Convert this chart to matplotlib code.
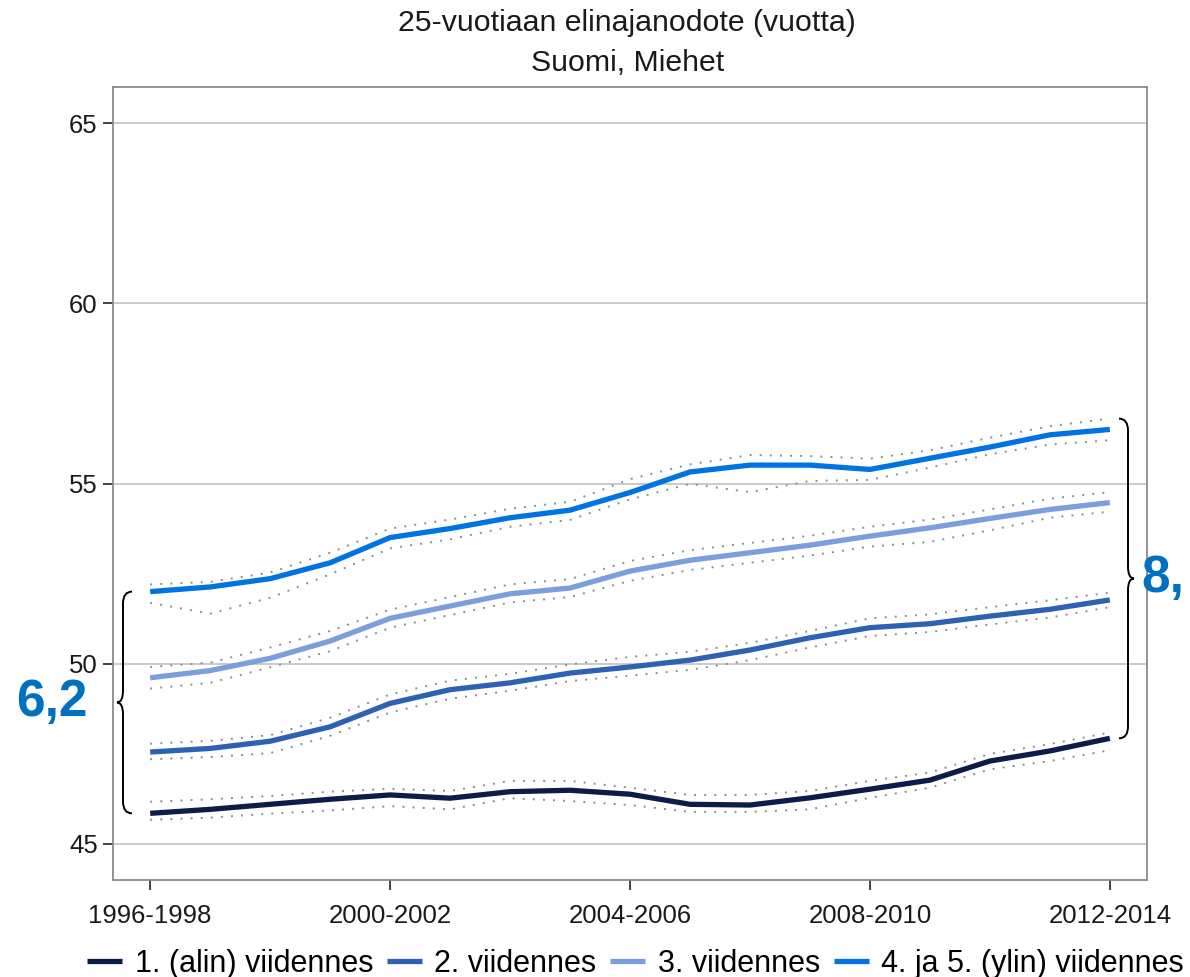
import matplotlib
matplotlib.use("Agg")
import matplotlib.pyplot as plt
from matplotlib.path import Path
from matplotlib.patches import PathPatch
from matplotlib.transforms import IdentityTransform, blended_transform_factory

plt.rcParams['font.family'] = ['Liberation Sans', 'DejaVu Sans']

# Three-year periods
periods = ["1996-1998", "1997-1999", "1998-2000", "1999-2001", "2000-2002",
           "2001-2003", "2002-2004", "2003-2005", "2004-2006", "2005-2007",
           "2006-2008", "2007-2009", "2008-2010", "2009-2011", "2010-2012",
           "2011-2013", "2012-2014"]
tick_labels = ["1996-1998", "2000-2002", "2004-2006", "2008-2010", "2012-2014"]

# Life expectancy at age 25 (years), men, by income quintile
q1 = [45.85, 45.96, 46.10, 46.24, 46.36, 46.27, 46.45, 46.49, 46.38, 46.10,
      46.08, 46.28, 46.52, 46.77, 47.30, 47.58, 47.93]
q1_hi = [46.17, 46.24, 46.33, 46.45, 46.53, 46.47, 46.75, 46.75, 46.56, 46.36,
         46.36, 46.47, 46.75, 46.98, 47.50, 47.77, 48.09]
q1_lo = [45.67, 45.73, 45.84, 45.93, 46.05, 45.96, 46.27, 46.19, 46.08, 45.89,
         45.89, 45.96, 46.28, 46.56, 47.07, 47.30, 47.60]

q2 = [47.55, 47.65, 47.85, 48.25, 48.90, 49.28, 49.47, 49.74, 49.91, 50.10,
      50.38, 50.72, 51.00, 51.11, 51.32, 51.51, 51.77]
q2_hi = [47.78, 47.86, 48.02, 48.50, 49.15, 49.53, 49.72, 49.98, 50.19, 50.33,
         50.58, 50.91, 51.26, 51.37, 51.57, 51.76, 51.97]
q2_lo = [47.35, 47.41, 47.52, 48.00, 48.65, 49.03, 49.25, 49.52, 49.67, 49.83,
         50.10, 50.45, 50.77, 50.88, 51.09, 51.28, 51.57]

q3 = [49.61, 49.81, 50.15, 50.63, 51.26, 51.60, 51.94, 52.10, 52.57, 52.87,
      53.08, 53.29, 53.54, 53.77, 54.03, 54.28, 54.47]
q3_hi = [49.91, 50.03, 50.45, 50.91, 51.50, 51.85, 52.20, 52.35, 52.85, 53.15,
         53.35, 53.55, 53.80, 54.00, 54.28, 54.58, 54.76]
q3_lo = [49.31, 49.47, 49.90, 50.35, 51.00, 51.35, 51.70, 51.85, 52.30, 52.60,
         52.80, 53.00, 53.25, 53.38, 53.70, 54.05, 54.22]

q45 = [52.00, 52.13, 52.36, 52.80, 53.50, 53.75, 54.05, 54.26, 54.75, 55.32,
       55.51, 55.51, 55.39, 55.70, 56.01, 56.35, 56.50]
q45_hi = [52.20, 52.27, 52.53, 53.08, 53.75, 54.00, 54.30, 54.49, 55.12, 55.53,
          55.79, 55.76, 55.69, 55.92, 56.27, 56.59, 56.80]
q45_lo = [51.69, 51.39, 51.83, 52.48, 53.20, 53.45, 53.80, 53.99, 54.56, 54.99,
          54.76, 55.07, 55.10, 55.44, 55.81, 56.08, 56.20]

series_names = ["1. (alin) viidennes", "2. viidennes", "3. viidennes",
                "4. ja 5. (ylin) viidennes"]
series_colors = ["#0d1b48", "#2c61b3", "#7b9edc", "#0073e2"]

title_line1 = "25-vuotiaan elinajanodote (vuotta)"
title_line2 = "Suomi, Miehet"
gap_start_label = "6,2"
gap_end_label = "8,"

W, H = 1190, 977
fig = plt.figure(figsize=(W / 100, H / 100), dpi=100)
ax = fig.add_axes([113 / W, 1 - 880 / H, (1147 - 113) / W, (880 - 87) / H])

x = list(range(len(periods)))
means = [q1, q2, q3, q45]
his = [q1_hi, q2_hi, q3_hi, q45_hi]
los = [q1_lo, q2_lo, q3_lo, q45_lo]

# confidence bounds as dotted grey lines
for hi, lo in zip(his, los):
    for b in (hi, lo):
        ax.plot(x, b, color="#8c8c8c", lw=1.4, linestyle=(0, (1, 4.2)),
                zorder=2)

handles = []
for m, c, n in zip(means, series_colors, series_names):
    h, = ax.plot(x, m, color=c, lw=3.8, solid_joinstyle="round",
                 solid_capstyle="butt", label=n, zorder=3)
    handles.append(h)

ax.set_xlim(-0.62, 16.62)
ax.set_ylim(44, 66)
ax.set_yticks([45, 50, 55, 60, 65])
ax.set_xticks([periods.index(t) for t in tick_labels])
ax.set_xticklabels(tick_labels)
ax.grid(axis="y", color="#c6c6c6", lw=1.3, zorder=1)
ax.set_axisbelow(True)
for sp in ax.spines.values():
    sp.set_color("#8a8a8a")
    sp.set_linewidth(1.3)
ax.tick_params(axis="both", direction="out", length=7, width=1.3,
               color="#333333", labelsize=18.5, labelcolor="#1a1a1a")
ax.tick_params(axis="x", pad=10)
ax.tick_params(axis="y", pad=4)

fig.text(0.527, 1 - 23 / H, title_line1, ha="center", va="center",
         fontsize=21.8, color="#1a1a1a")
fig.text(0.527, 1 - 63 / H, title_line2, ha="center", va="center",
         fontsize=21.8, color="#1a1a1a")

fig.legend(handles=handles, labels=series_names, loc="center", ncol=4,
           bbox_to_anchor=(0.534, 1 - 964 / H), frameon=False,
           fontsize=22, handlelength=1.15, handletextpad=0.4,
           columnspacing=0.45, borderaxespad=0, borderpad=0)


def brace(x_px, y_top, y_bot, facing):
    """Curly brace between two data values; x_px is the spine position in
    figure pixels from the left, facing=+1 draws '{', -1 draws '}'."""
    top = ax.transData.transform((0, y_top))[1]
    bot = ax.transData.transform((0, y_bot))[1]
    mid = (top + bot) / 2
    r = 12
    arm = x_px + facing * 9
    spine = x_px
    tip = x_px - facing * 6
    verts = [
        (arm, top),
        (spine, top), (spine, top - r),
        (spine, mid + r),
        (spine, mid), (tip, mid),
        (spine, mid), (spine, mid - r),
        (spine, bot + r),
        (spine, bot), (arm, bot),
    ]
    codes = [Path.MOVETO,
             Path.CURVE3, Path.CURVE3,
             Path.LINETO,
             Path.CURVE3, Path.CURVE3,
             Path.CURVE3, Path.CURVE3,
             Path.LINETO,
             Path.CURVE3, Path.CURVE3]
    patch = PathPatch(Path(verts, codes), fill=False, edgecolor="black",
                      lw=1.4, zorder=5, transform=IdentityTransform())
    fig.add_artist(patch)
    return (y_top + y_bot) / 2


lab_tr = blended_transform_factory(fig.transFigure, ax.transData)

mid_l = brace(123, q45[0], q1[0], +1)
fig.text(52 / W, mid_l, gap_start_label, transform=lab_tr, ha="center",
         va="center", fontsize=37, fontweight="bold", color="#0070c0")

mid_r = brace(1128, q45[-1] + 0.3, q1[-1], -1)
fig.text(1141 / W, mid_r, gap_end_label, transform=lab_tr, ha="left",
         va="center", fontsize=37, fontweight="bold", color="#0070c0")

fig.savefig("out.png", dpi=100)
